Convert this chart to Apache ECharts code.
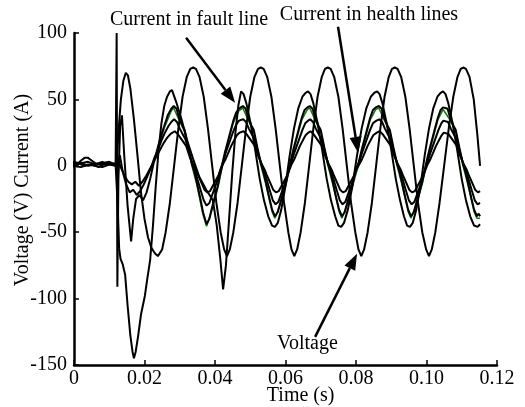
<!DOCTYPE html>
<html><head><meta charset="utf-8">
<script src="https://cdn.jsdelivr.net/npm/echarts@6/dist/echarts.min.js"></script>
<style>html,body{margin:0;padding:0;background:#fff}#c{width:525px;height:407px}</style>
</head><body><div id="c"></div>
<script>
var xTicks = [0, 0.02, 0.04, 0.06, 0.08, 0.10, 0.12];
var yTicks = [-150, -100, -50, 0, 50, 100];
var voltage = [[-0.0005,1],[0.001,2],[0.003,0],[0.005,1],[0.007,-1],[0.009,2],[0.011,1],[0.0121,0],
[0.0126,25],[0.0133,50],[0.014,64],[0.0147,70],[0.0153,68],[0.016,58],[0.017,35],[0.018,8],[0.019,-20],[0.020,-40],[0.021,-54],[0.022,-62],[0.023,-66],[0.0238,-68],
[0.025,-63],[0.026,-50],[0.0272,-28],[0.0284,0],[0.0296,28],[0.0308,52],[0.032,67],[0.033,73],[0.0338,74],[0.0346,73],[0.0356,67],[0.0368,52],[0.038,28],[0.0392,0],[0.0404,-28],[0.0416,-50],[0.0426,-63],[0.0434,-68],
[0.0442,-63],[0.0452,-50],[0.0464,-28],[0.0476,0],[0.0488,28],[0.05,52],[0.0512,67],[0.0522,73],[0.053,74],[0.0538,73],[0.0548,67],[0.056,52],[0.0572,28],[0.0584,0],[0.0596,-28],[0.0608,-50],[0.0617,-63],[0.0625,-68],
[0.0633,-63],[0.0643,-50],[0.0655,-28],[0.0667,0],[0.0679,28],[0.0691,52],[0.0703,67],[0.0712,73],[0.072,74],[0.0728,73],[0.0738,67],[0.075,52],[0.0762,28],[0.0774,0],[0.0786,-28],[0.0798,-50],[0.0807,-63],[0.0815,-68],
[0.0823,-63],[0.0833,-50],[0.0845,-28],[0.0857,0],[0.0869,28],[0.0881,52],[0.0893,67],[0.0902,73],[0.091,74],[0.0918,73],[0.0928,67],[0.094,52],[0.0952,28],[0.0964,0],[0.0976,-28],[0.0988,-50],[0.0999,-63],[0.1007,-68],
[0.1015,-63],[0.1025,-50],[0.1037,-28],[0.105,0],[0.1063,28],[0.1076,52],[0.1088,67],[0.1097,73],[0.1104,74],[0.1112,73],[0.1122,67],[0.1134,50],[0.1144,24],[0.1152,0]];
var faultCurrent = [[-0.0005,3],[0.002,2],[0.004,3],[0.006,1],[0.008,2],[0.010,3],[0.0118,1],
[0.0124,-30],[0.0128,-62],[0.0132,-70],[0.0138,-74],[0.0145,-82],[0.0152,-105],[0.016,-128],[0.0166,-140],[0.017,-145],[0.0175,-140],[0.0182,-128],[0.019,-112],[0.0201,-98],[0.0208,-85],[0.0216,-71],[0.0224,-45],[0.0232,-15],[0.024,12],[0.0248,32],[0.0256,45],[0.0264,52],[0.0272,56],[0.0278,57],
[0.029,48],[0.0305,35],[0.032,20],[0.0338,5],[0.0355,-8],[0.0375,-18],[0.0394,-26],[0.0405,-45],[0.0415,-70],[0.0423,-93],[0.0431,-75],[0.044,-40],[0.0449,-5],[0.0458,25],[0.0466,45],
[0.0474,56],[0.0481,54],[0.0489,47],[0.0501,32],[0.0514,12],[0.0527,-10],[0.0539,-26],[0.0551,-38],[0.0562,-45],[0.057,-46],[0.0578,-43],[0.0588,-33],[0.06,-15],[0.0612,8],[0.0624,28],[0.0636,43],[0.0648,52],[0.0657,55],
[0.0664,56],[0.0671,54],[0.0679,47],[0.0691,32],[0.0704,12],[0.0717,-10],[0.0729,-26],[0.0741,-38],[0.075,-45],[0.0758,-46],[0.0766,-43],[0.0777,-33],[0.079,-15],[0.0803,8],[0.0816,28],[0.0829,43],[0.0842,52],[0.0852,55],
[0.086,56],[0.0867,54],[0.0875,47],[0.0887,32],[0.09,12],[0.0913,-10],[0.0925,-26],[0.0936,-38],[0.0945,-45],[0.0953,-46],[0.0961,-43],[0.0971,-33],[0.0983,-15],[0.0995,8],[0.1007,28],[0.1019,43],[0.1031,52],[0.104,55],
[0.1047,56],[0.1054,54],[0.1062,47],[0.1074,32],[0.1087,12],[0.11,-10],[0.1112,-26],[0.1124,-38],[0.1135,-45],[0.1145,-46],[0.1152,-44]];
var health1 = [[-0.0005,-1],[0.001,1],[0.002,4],[0.003,6],[0.004,6],[0.005,4],[0.006,2],[0.008,1],[0.010,2],[0.0118,0],
[0.0121,100],[0.0123,-91],[0.0126,-10],[0.0131,30],[0.0136,38],[0.0142,10],[0.0152,-30],[0.0162,-57],[0.0168,-40],[0.0176,-25],[0.0186,-22],[0.0196,-26],[0.0206,-20],[0.0216,-10],[0.0226,2],[0.0236,12],[0.0246,22],[0.0256,30],[0.0266,38],[0.0276,43],
[0.0283,45],[0.0291,43],[0.0298,36],[0.0308,30],[0.0314,27],[0.0324,14],[0.0334,2],[0.0342,-5],[0.0348,-12],[0.0358,-24],[0.0366,-35],[0.0376,-44],[0.0384,-40],[0.0392,-31],[0.04,-23],[0.0408,-15],[0.0414,-7],[0.042,0],[0.0428,10],[0.0436,18],[0.0444,26],[0.0452,34],[0.046,40],[0.0468,43],
[0.0479,45],[0.0487,43],[0.0494,36],[0.0504,30],[0.051,27],[0.052,14],[0.053,2],[0.0538,-5],[0.0544,-12],[0.0554,-24],[0.0562,-33],[0.057,-38],[0.0578,-35],[0.0586,-27],[0.0594,-20],[0.0602,-12],[0.0608,-4],[0.0614,3],[0.0622,12],[0.063,20],[0.0638,28],[0.0646,36],[0.0654,42],[0.0662,44],
[0.0669,45],[0.0677,43],[0.0684,36],[0.0694,30],[0.07,27],[0.071,14],[0.072,2],[0.0728,-5],[0.0734,-12],[0.0744,-24],[0.0752,-33],[0.076,-38],[0.0768,-35],[0.0776,-27],[0.0784,-20],[0.0792,-12],[0.0798,-4],[0.0808,3],[0.0816,12],[0.0824,20],[0.0832,28],[0.084,36],[0.0848,42],[0.0856,44],
[0.0865,45],[0.0873,43],[0.088,36],[0.089,30],[0.0896,27],[0.0906,14],[0.0916,2],[0.0924,-5],[0.093,-12],[0.094,-24],[0.0948,-33],[0.0956,-38],[0.0964,-35],[0.0972,-27],[0.098,-20],[0.0988,-12],[0.0994,-4],[0.1,3],[0.1008,12],[0.1016,20],[0.1024,28],[0.1032,36],[0.104,42],[0.1047,44],
[0.1052,45],[0.106,43],[0.1067,36],[0.1077,30],[0.1083,27],[0.1093,14],[0.1103,2],[0.1111,-5],[0.1117,-12],[0.1127,-24],[0.1135,-33],[0.1143,-38],[0.1148,-36],[0.1152,-38]];
var health1Green = [[0.0236,10.5],[0.0256,28.5],[0.0276,41.5],[0.0283,43.5],[0.0298,34.5],[0.0314,25.5],[0.0334,0.5],[0.0348,-13.5],[0.0366,-36.5],[0.0376,-45.5],[0.0392,-32.5],[0.0408,-16.5],[0.042,-1.5],[0.0436,16.5],[0.0452,32.5],[0.0468,41.5],[0.0479,43.5],[0.0494,34.5],[0.051,25.5],[0.053,0.5],[0.0544,-13.5],[0.0562,-34.5],[0.057,-39.5],[0.0586,-28.5],[0.0602,-13.5],[0.0614,1.5],[0.063,18.5],[0.0646,34.5],[0.0662,42.5],[0.0669,43.5],[0.0684,34.5],[0.07,25.5],[0.072,0.5],[0.0734,-13.5],[0.0752,-34.5],[0.076,-39.5],[0.0776,-28.5],[0.0792,-13.5],[0.0808,1.5],[0.0824,18.5],[0.084,34.5],[0.0856,42.5],[0.0865,43.5],[0.088,34.5],[0.0896,25.5],[0.0916,0.5],[0.093,-13.5],[0.0948,-34.5],[0.0956,-39.5],[0.0972,-28.5],[0.0988,-13.5],[0.1,1.5],[0.1016,18.5],[0.1032,34.5],[0.1047,42.5],[0.1052,43.5],[0.1067,34.5],[0.1083,25.5],[0.1103,0.5],[0.1117,-13.5],[0.1135,-34.5],[0.1143,-39.5],[0.1152,-39.5]];
var health2 = [[-0.0005,1],[0.002,2],[0.004,0],[0.006,1],[0.008,3],[0.010,1],[0.0118,2],
[0.0124,-6],[0.013,8],[0.0138,-4],[0.0148,-14],[0.0158,-20],[0.0168,-18],[0.0178,-22],[0.0188,-19],[0.0198,-14],[0.0208,-8],[0.0218,-2],[0.0228,6],[0.0238,12],[0.0248,19],[0.0258,25],[0.0268,30],[0.0276,33],
[0.0284,35],[0.0292,33],[0.03,28],[0.0308,24],[0.0316,20],[0.0326,10],[0.0336,1],[0.0344,-4],[0.035,-10],[0.036,-19],[0.0368,-26],[0.0376,-30],[0.0384,-28],[0.0392,-22],[0.04,-16],[0.0408,-10],[0.0414,-4],[0.042,1],[0.0428,8],[0.0436,14],[0.0444,20],[0.0452,26],[0.046,31],[0.0468,34],
[0.048,35],[0.0488,33],[0.0496,28],[0.0504,24],[0.0512,20],[0.0522,10],[0.0532,1],[0.054,-4],[0.0546,-10],[0.0556,-19],[0.0564,-26],[0.0572,-29],[0.058,-27],[0.0588,-21],[0.0596,-15],[0.0604,-9],[0.061,-3],[0.0616,2],[0.0624,9],[0.0632,15],[0.064,21],[0.0648,27],[0.0656,32],[0.0664,34],
[0.067,35],[0.0678,33],[0.0686,28],[0.0694,24],[0.0702,20],[0.0712,10],[0.0722,1],[0.073,-4],[0.0736,-10],[0.0746,-19],[0.0754,-26],[0.0762,-29],[0.077,-27],[0.0778,-21],[0.0786,-15],[0.0794,-9],[0.08,-3],[0.0808,2],[0.0816,9],[0.0824,15],[0.0832,21],[0.084,27],[0.0848,32],[0.0858,34],
[0.0866,35],[0.0874,33],[0.0882,28],[0.089,24],[0.0898,20],[0.0908,10],[0.0918,1],[0.0926,-4],[0.0932,-10],[0.0942,-19],[0.095,-26],[0.0958,-29],[0.0966,-27],[0.0974,-21],[0.0982,-15],[0.099,-9],[0.0996,-3],[0.1002,2],[0.101,9],[0.1018,15],[0.1026,21],[0.1034,27],[0.1042,32],[0.1048,34],
[0.1053,35],[0.1061,33],[0.1069,28],[0.1077,24],[0.1085,20],[0.1095,10],[0.1105,1],[0.1113,-4],[0.1119,-10],[0.1129,-19],[0.1137,-26],[0.1145,-29],[0.1152,-28]];
var health3 = [[-0.0005,0],[0.002,-1],[0.004,1],[0.006,0],[0.008,-1],[0.010,1],[0.0118,0],
[0.0126,4],[0.0134,-2],[0.0144,-8],[0.0154,-12],[0.0164,-14],[0.0174,-12],[0.0184,-15],[0.0194,-12],[0.0204,-8],[0.0214,-3],[0.0224,2],[0.0234,7],[0.0244,12],[0.0254,17],[0.0264,21],[0.0274,24],
[0.0286,26],[0.0294,24],[0.0302,21],[0.031,18],[0.0318,15],[0.0328,7],[0.0338,1],[0.0346,-3],[0.0352,-7],[0.0362,-13],[0.037,-18],[0.0378,-20],[0.0386,-19],[0.0394,-15],[0.0402,-11],[0.041,-7],[0.0416,-3],[0.0422,1],[0.043,5],[0.0438,10],[0.0446,15],[0.0454,19],[0.0462,23],[0.047,25],
[0.0481,26],[0.0489,24],[0.0497,21],[0.0505,18],[0.0513,15],[0.0523,7],[0.0533,1],[0.0541,-3],[0.0547,-7],[0.0557,-13],[0.0565,-18],[0.0573,-20],[0.0581,-19],[0.0589,-15],[0.0597,-11],[0.0605,-7],[0.0611,-3],[0.0617,1],[0.0625,5],[0.0633,10],[0.0641,15],[0.0649,19],[0.0657,23],[0.0665,25],
[0.0671,26],[0.0679,24],[0.0687,21],[0.0695,18],[0.0703,15],[0.0713,7],[0.0723,1],[0.0731,-3],[0.0737,-7],[0.0747,-13],[0.0755,-18],[0.0763,-20],[0.0771,-19],[0.0779,-15],[0.0787,-11],[0.0795,-7],[0.0801,-3],[0.0809,1],[0.0817,5],[0.0825,10],[0.0833,15],[0.0841,19],[0.0849,23],[0.0859,25],
[0.0867,26],[0.0875,24],[0.0883,21],[0.0891,18],[0.0899,15],[0.0909,7],[0.0919,1],[0.0927,-3],[0.0933,-7],[0.0943,-13],[0.0951,-18],[0.0959,-20],[0.0967,-19],[0.0975,-15],[0.0983,-11],[0.0991,-7],[0.0997,-3],[0.1003,1],[0.1011,5],[0.1019,10],[0.1027,15],[0.1035,19],[0.1043,23],[0.1049,25],
[0.1054,26],[0.1062,24],[0.107,21],[0.1078,18],[0.1086,15],[0.1096,7],[0.1106,1],[0.1114,-3],[0.112,-7],[0.113,-13],[0.1138,-18],[0.1146,-20],[0.1152,-19]];
var labels = ['Current in fault line', 'Current in health lines', 'Voltage'];
var labelAt = [[0.0102, 117.3], [0.0584, 121.1], [0.0576, -126.6]];
var arrowFrom = [[0.0318, 96.4], [0.0749, 104.7], [0.0684, -128.8]];
var arrowTo = [[0.0457, 47.4], [0.0806, 9.8], [0.0803, -66.3]];

var chart = echarts.init(document.getElementById('c'), null, {renderer:'canvas'});
var font = 'Liberation Serif';
function line(d, c, w){return {type:'line',data:d,showSymbol:false,smooth:false,clip:false,lineStyle:{color:c||'#000',width:w||2},animation:false};}
chart.setOption({
  animation:false,
  grid:{left:74,right:28,top:33,bottom:42,outerBoundsMode:'none',containLabel:false},
  xAxis:{type:'value',min:0,max:0.12,interval:0.02,
    axisLine:{onZero:false,lineStyle:{color:'#000',width:2.5}},axisTick:{inside:true,length:5,lineStyle:{color:'#000',width:1.5}},
    splitLine:{show:false},
    axisLabel:{fontFamily:font,fontSize:20,color:'#000',margin:4,formatter:function(v){return v===0?'0':v.toFixed(2);}}},
  yAxis:{type:'value',min:-150,max:100,interval:50,
    axisLine:{onZero:false,lineStyle:{color:'#000',width:2.5}},axisTick:{inside:true,length:5,lineStyle:{color:'#000',width:1.5}},
    splitLine:{show:false},
    axisLabel:{fontFamily:font,fontSize:20,color:'#000',margin:7}},
  series:[line(health1Green,'#137a13',1.6),line(health3),line(health2),line(health1),line(faultCurrent),line(voltage)]
});
var g = [];
var mid = chart.convertToPixel({gridIndex:0}, [0, -25]);
g.push({type:'text',x:23,y:mid[1]-9,rotation:Math.PI/2,style:{text:'Voltage (V) Current (A)',font:'20px Liberation Serif',fill:'#000',textAlign:'center',textVerticalAlign:'middle'}});
var xm = chart.convertToPixel({gridIndex:0}, [0.0643, -150]);
g.push({type:'text',x:xm[0],y:xm[1]+31,style:{text:'Time (s)',font:'20px Liberation Serif',fill:'#000',textAlign:'center',textVerticalAlign:'middle'}});
for (var i = 0; i < labels.length; i++) {
  var p = chart.convertToPixel({gridIndex:0}, labelAt[i]);
  g.push({type:'text',x:p[0],y:p[1],style:{text:labels[i],font:'20px Liberation Serif',fill:'#000',textVerticalAlign:'top'}});
  var a = chart.convertToPixel({gridIndex:0}, arrowFrom[i]);
  var b = chart.convertToPixel({gridIndex:0}, arrowTo[i]);
  var dx = b[0]-a[0], dy = b[1]-a[1], L = Math.sqrt(dx*dx+dy*dy), ux = dx/L, uy = dy/L;
  var hl = 16, hw = 6;
  var bx = b[0]-ux*hl, by = b[1]-uy*hl;
  g.push({type:'line',shape:{x1:a[0],y1:a[1],x2:bx,y2:by},style:{stroke:'#000',lineWidth:2.5}});
  g.push({type:'polygon',shape:{points:[[b[0],b[1]],[bx-uy*hw,by+ux*hw],[bx+uy*hw,by-ux*hw]]},style:{fill:'#000'}});
}
chart.setOption({graphic:g});
</script></body></html>
